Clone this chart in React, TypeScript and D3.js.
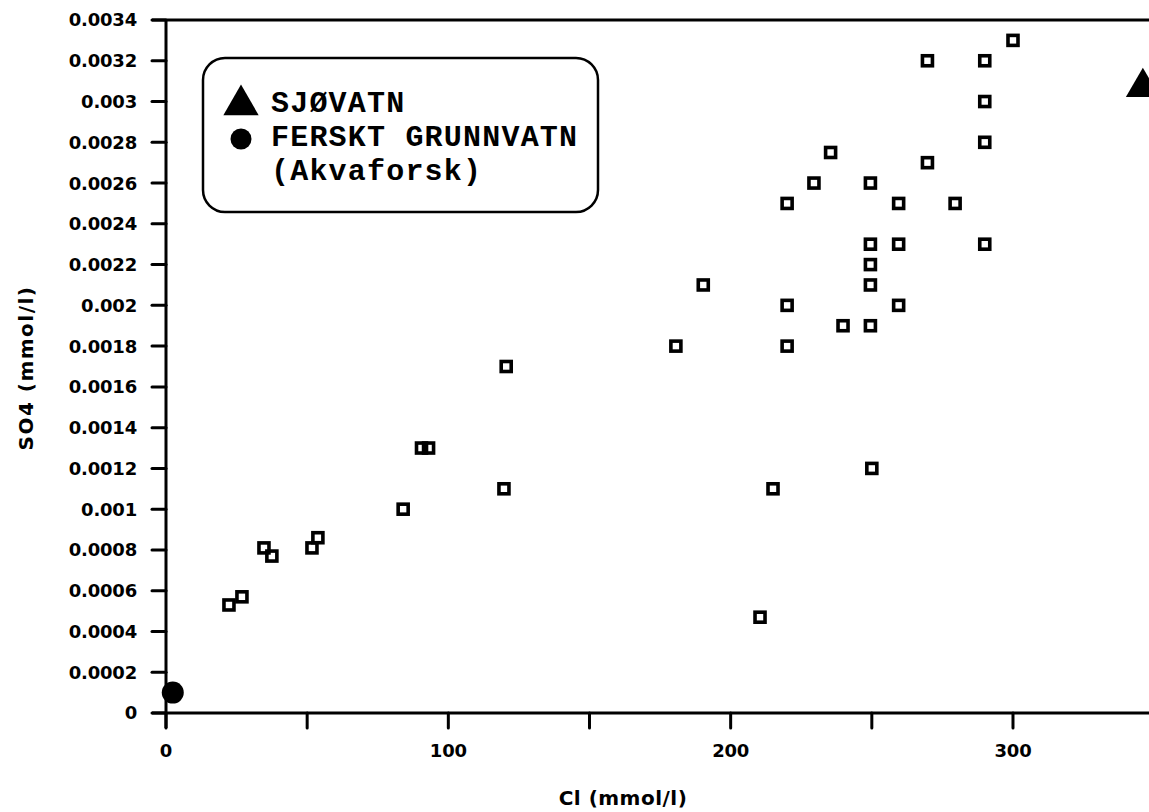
import React from "react";
import * as d3 from "d3";

// Sample points: chloride (mmol/l) against sulphate (mmol/l)
const clValues = [
  22.3, 26.9, 34.7, 37.5, 51.7, 53.8, 84, 90.5, 93, 120.5, 119.7,
  180.6, 190.3, 210.4, 215, 220, 220, 220, 229.5, 235.4, 239.8,
  249.5, 249.5, 249.5, 249.5, 249.5, 250, 259.5, 259.5, 259.5,
  269.7, 269.7, 279.5, 290, 290, 290, 290, 300,
];
const so4Values = [
  0.00053, 0.00057, 0.00081, 0.00077, 0.00081, 0.00086, 0.001, 0.0013, 0.0013, 0.0017, 0.0011,
  0.0018, 0.0021, 0.00047, 0.0011, 0.0025, 0.002, 0.0018, 0.0026, 0.00275, 0.0019,
  0.0026, 0.0023, 0.0022, 0.0021, 0.0019, 0.0012, 0.0025, 0.0023, 0.002,
  0.0032, 0.0027, 0.0025, 0.0032, 0.003, 0.0028, 0.0023, 0.0033,
];

// Reference waters
const seaCl = [346];
const seaSO4 = [0.00307];
const groundCl = [2.4];
const groundSO4 = [0.0001];

// Axis ticks
const yTickValues = [
  0, 0.0002, 0.0004, 0.0006, 0.0008, 0.001, 0.0012, 0.0014, 0.0016, 0.0018,
  0.002, 0.0022, 0.0024, 0.0026, 0.0028, 0.003, 0.0032, 0.0034,
];
const yTickLabels = [
  "0", "0.0002", "0.0004", "0.0006", "0.0008", "0.001", "0.0012", "0.0014", "0.0016", "0.0018",
  "0.002", "0.0022", "0.0024", "0.0026", "0.0028", "0.003", "0.0032", "0.0034",
];
const xTickValues = [0, 50, 100, 150, 200, 250, 300, 350];
const xLabelValues = [0, 100, 200, 300];
const xLabelTexts = ["0", "100", "200", "300"];

const legendLines = ["SJØVATN", "FERSKT GRUNNVATN", "(Akvaforsk)"];

export default function App() {
  const W = 1149;
  const H = 812;
  const x0 = 166;
  const pxPerUnit = 2.8233;
  const x = d3.scaleLinear().domain([0, 350]).range([x0, x0 + 350 * pxPerUnit]);
  const y = d3.scaleLinear().domain([0, 0.0034]).range([713, 20]);

  const tickFont = "'DejaVu Sans', sans-serif";
  const monoFont = "'Liberation Mono', 'Courier New', monospace";
  const ink = "#000";

  const triangle = d3.symbol().type(d3.symbolTriangle).size(500)();
  const legendTriangle = d3.symbol().type(d3.symbolTriangle).size(540)();

  const sq = 10;
  const legendBaselines = [112, 146, 180];

  return (
    <svg
      width={W}
      height={H}
      style={{ position: "absolute", left: 0, top: 0, background: "#fff" }}
    >
      <rect x={0} y={0} width={W} height={H} fill="#fff" />

      {/* frame: left axis, bottom axis, top edge, right edge */}
      <line x1={x0} x2={x0} y1={y(0.0034)} y2={y(0) + 15} stroke={ink} strokeWidth={3} />
      <line x1={x0 - 14} x2={x(350)} y1={y(0)} y2={y(0)} stroke={ink} strokeWidth={3} />
      <line x1={x0 - 14} x2={x(350)} y1={y(0.0034)} y2={y(0.0034)} stroke={ink} strokeWidth={3} />
      <line x1={x(350)} x2={x(350)} y1={y(0.0034)} y2={y(0)} stroke={ink} strokeWidth={3} />

      {/* y ticks */}
      {yTickValues.map((v, i) => (
        <g key={"yt" + i}>
          <line x1={x0 - 14} x2={x0} y1={y(v)} y2={y(v)} stroke={ink} strokeWidth={3} strokeLinecap="round" />
          <text
            x={137}
            y={y(v)}
            dy="0.36em"
            textAnchor="end"
            fontFamily={tickFont}
            fontWeight="bold"
            fontSize={18}
            letterSpacing={-0.2}
            fill={ink}
          >
            {yTickLabels[i]}
          </text>
        </g>
      ))}

      {/* x ticks */}
      {xTickValues.map((v, i) => (
        <line
          key={"xt" + i}
          x1={x(v)}
          x2={x(v)}
          y1={y(0)}
          y2={y(0) + 15}
          stroke={ink}
          strokeWidth={3}
          strokeLinecap="round"
        />
      ))}
      {xLabelValues.map((v, i) => (
        <text
          key={"xl" + i}
          x={x(v)}
          y={757}
          textAnchor="middle"
          fontFamily={tickFont}
          fontWeight="bold"
          fontSize={18}
          letterSpacing={-0.2}
          fill={ink}
        >
          {xLabelTexts[i]}
        </text>
      ))}

      {/* axis titles */}
      <text
        x={623}
        y={805}
        textAnchor="middle"
        fontFamily={tickFont}
        fontWeight="bold"
        fontSize={20}
        letterSpacing={0.5}
        fill={ink}
      >
        Cl (mmol/l)
      </text>
      <text
        transform="translate(33,368) rotate(-90)"
        textAnchor="middle"
        fontFamily={tickFont}
        fontWeight="bold"
        fontSize={20}
        letterSpacing={1.5}
        fill={ink}
      >
        SO4 (mmol/l)
      </text>

      {/* samples */}
      {clValues.map((c, i) => (
        <rect
          key={"p" + i}
          x={x(c) - sq / 2}
          y={y(so4Values[i]) - sq / 2}
          width={sq}
          height={sq}
          fill="none"
          stroke={ink}
          strokeWidth={3.6}
        />
      ))}

      {/* seawater */}
      {seaCl.map((c, i) => (
        <path key={"s" + i} d={triangle} transform={`translate(${x(c)},${y(seaSO4[i])})`} fill={ink} />
      ))}
      {/* fresh groundwater */}
      {groundCl.map((c, i) => (
        <circle key={"g" + i} cx={x(c)} cy={y(groundSO4[i])} r={11} fill={ink} />
      ))}

      {/* legend */}
      <rect x={203} y={58} width={395} height={154} rx={22} ry={22} fill="#fff" stroke={ink} strokeWidth={2.5} />
      <path d={legendTriangle} transform="translate(241,105)" fill={ink} />
      <circle cx={241} cy={139} r={10.5} fill={ink} />
      {legendLines.map((t, i) => (
        <text
          key={"lg" + i}
          x={271}
          y={legendBaselines[i]}
          fontFamily={monoFont}
          fontWeight="bold"
          fontSize={30}
          letterSpacing={1.2}
          fill={ink}
        >
          {t}
        </text>
      ))}
    </svg>
  );
}
